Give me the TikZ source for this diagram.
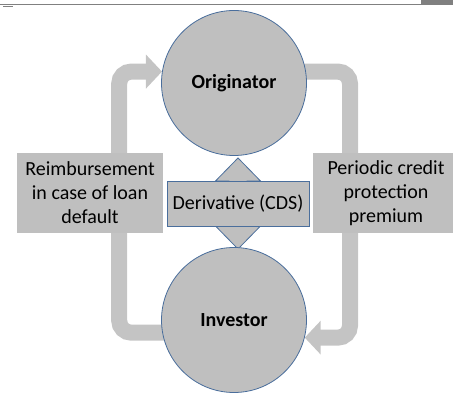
\documentclass[tikz,border=0pt]{standalone}
\usepackage{fontspec}
\setmainfont{Carlito}
\usetikzlibrary{arrows.meta,backgrounds}
\definecolor{boxgray}{HTML}{BFBFBF}
\definecolor{bandgray}{HTML}{C4C4C4}
\definecolor{edgeblue}{HTML}{4A6E9C}
\tikzset{
  party/.style={circle, draw=edgeblue, line width=0.8pt, fill=boxgray, minimum size=145pt, inner sep=0pt, font=\fontsize{20}{24}\selectfont\bfseries},
  flowlabel/.style={fill=boxgray, minimum width=146pt, minimum height=80pt, inner sep=0pt, align=center, font=\fontsize{20}{24}\selectfont},
  cdsbox/.style={draw=edgeblue, line width=0.8pt, fill=boxgray, minimum width=142pt, minimum height=45pt, inner sep=0pt, font=\fontsize{20}{24}\selectfont},
  flow/.style={draw=bandgray, line width=16pt, rounded corners=12pt, -{Triangle[length=16pt,width=33pt]}},
}

\begin{document}
\begin{tikzpicture}[x=1pt,y=1pt]
	\useasboundingbox (0,0) rectangle (453,394);
	\draw [gray, line width=1pt] (0,389) -- (421,389);
	\fill [gray] (421,388.5) rectangle (453,394);
	\draw [gray, line width=1.5pt] (3,387.5) -- (13,387.5);
	\node [party] (orig) at (234,311) {Originator};
	\node [party] (inv) at (234,74) {Investor};
	\node [cdsbox] (cds) at (238,190.5) {Derivative (CDS)};
	\node [flowlabel] (reimb) at (90,201) {Reimbursement\\in case of loan\\default};
	\node [flowlabel] (prem) at (386,201) {Periodic credit\\protection\\premium};
	\begin{scope}[on background layer]
		\draw [flow] ([xshift=4pt]inv.190) -- ++(-47,0) |- (orig.171);
		\draw [flow] ([xshift=-4pt]orig.9) -- ++(48,0) |- (inv.-14);
		\draw [draw=edgeblue, line width=0.8pt, fill=boxgray] (cds.center) ++(0,45.5) -- ++(-22.5,-23) -- ++(13.5,0) -- ++(0,-45) -- ++(-13.5,0) -- ++(22.5,-23) -- ++(22.5,23) -- ++(-13.5,0) -- ++(0,45) -- ++(13.5,0) -- cycle;
	\end{scope}
\end{tikzpicture}
\end{document}
